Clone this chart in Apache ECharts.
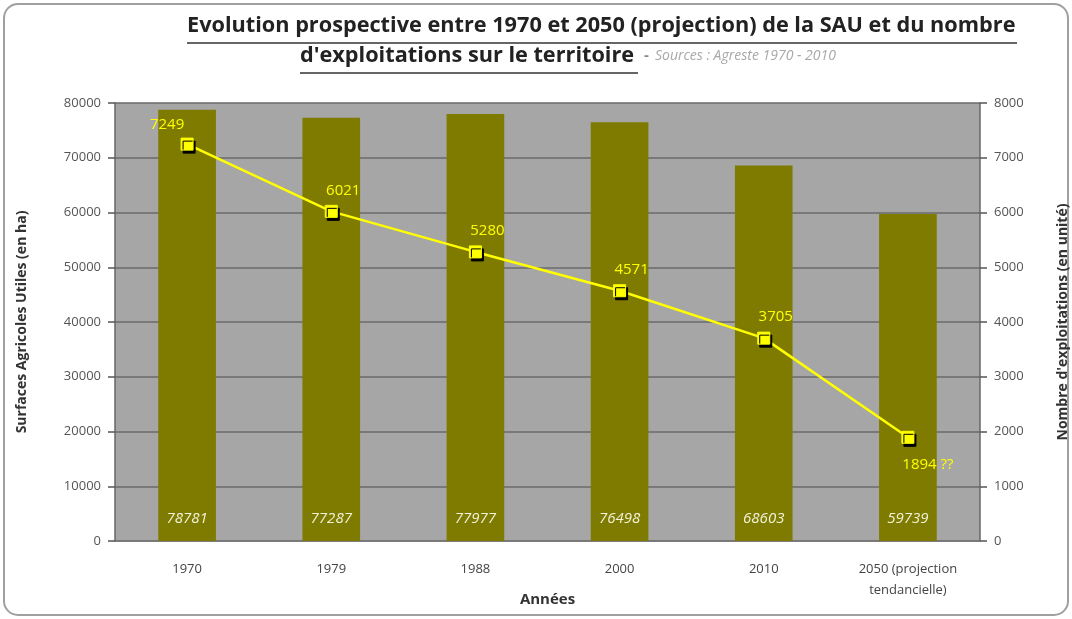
<!DOCTYPE html>
<html>
<head>
<meta charset="utf-8">
<script src="https://cdn.jsdelivr.net/npm/echarts@6/dist/echarts.min.js"></script>
<style>
  html, body { margin: 0; padding: 0; background: #fff; }
  #chart { width: 1072px; height: 619px; }
</style>
</head>
<body>
<div id="chart"></div>
<script>
var years = ['1970', '1979', '1988', '2000', '2010', '2050 (projection\ntendancielle)'];
var sau = [78781, 77287, 77977, 76498, 68603, 59739];
var exploitations = [7249, 6021, 5280, 4571, 3705, 1894];
var exploitLabels = ['7249', '6021', '5280', '4571', '3705', '1894 ??'];

var chart = echarts.init(document.getElementById('chart'));
var font = 'Open Sans';

// label offsets for the line points
var labelPos = [
  { position: 'top', offset: [-20, 0] },
  { position: 'top', offset: [12, -2] },
  { position: 'top', offset: [12, -2] },
  { position: 'top', offset: [12, -2] },
  { position: 'top', offset: [12, -2] },
  { position: 'bottom', offset: [20, 8] }
];

var lineData = exploitations.map(function (v, i) {
  return {
    value: v,
    label: {
      position: labelPos[i].position,
      offset: labelPos[i].offset,
      formatter: exploitLabels[i]
    }
  };
});

var plain = function (v) { return String(v); };

var option = {
  backgroundColor: '#fff',
  textStyle: { fontFamily: font },
  graphic: [
    {
      type: 'rect',
      shape: { x: 4, y: 4, width: 1064, height: 611, r: 14 },
      style: { fill: 'none', stroke: '#a0a0a0', lineWidth: 2 },
      z: -1
    },
    {
      type: 'text',
      left: 187,
      top: 15,
      style: {
        text: 'Evolution prospective entre 1970 et 2050 (projection) de la SAU et du nombre',
        font: 'bold 21.7px "' + font + '"',
        fill: '#222',
        textShadowColor: 'rgba(0,0,0,0.35)',
        textShadowOffsetX: 1,
        textShadowOffsetY: 1
      }
    },
    {
      type: 'text',
      left: 300,
      top: 45,
      style: {
        rich: {
          a: { font: 'bold 21.7px "' + font + '"', fill: '#222' },
          d: { font: 'bold 15px "' + font + '"', fill: '#888', padding: [0, 6, 0, 10] },
          b: { font: 'italic 14px "' + font + '"', fill: '#a8a8a8' }
        },
        text: '{a|d\'exploitations sur le territoire}{d|-}{b|Sources : Agreste 1970 - 2010}',
        textShadowColor: 'rgba(0,0,0,0.3)',
        textShadowOffsetX: 1,
        textShadowOffsetY: 1
      }
    },
    {
      type: 'line',
      shape: { x1: 187, y1: 43, x2: 1017, y2: 43 },
      style: { stroke: '#333', lineWidth: 1.5 }
    },
    {
      type: 'line',
      shape: { x1: 300, y1: 73, x2: 638, y2: 73 },
      style: { stroke: '#333', lineWidth: 1.5 }
    }
  ],
  grid: {
    left: 115,
    right: 92,
    top: 103,
    bottom: 78,
    outerBoundsMode: 'none',
    show: true,
    backgroundColor: '#a6a6a6',
    borderWidth: 0
  },
  xAxis: {
    type: 'category',
    data: years,
    name: 'Années',
    nameLocation: 'middle',
    nameGap: 51,
    nameMoveOverlap: false,
    nameTextStyle: { fontSize: 15, fontWeight: 'bold', color: '#333' },
    axisLine: { lineStyle: { color: '#777', width: 1.5 } },
    axisTick: { show: false },
    axisLabel: { color: '#444', fontSize: 13, margin: 18, lineHeight: 21 }
  },
  yAxis: [
    {
      type: 'value',
      min: 0,
      max: 80000,
      interval: 10000,
      name: 'Surfaces Agricoles Utiles (en ha)',
      nameLocation: 'middle',
      nameGap: 86,
      nameMoveOverlap: false,
      nameTextStyle: { fontSize: 14, fontWeight: 'bold', color: '#333' },
      axisLine: { show: true, lineStyle: { color: '#666', width: 1.5 } },
      axisTick: { show: true, length: 7, lineStyle: { color: '#555', width: 1.5 } },
      axisLabel: { color: '#555', fontSize: 13, margin: 14, formatter: plain },
      splitLine: { lineStyle: { color: '#6a6a6a', width: 1.5 } }
    },
    {
      type: 'value',
      min: 0,
      max: 8000,
      interval: 1000,
      position: 'right',
      name: 'Nombre d\'exploitations (en unité)',
      nameLocation: 'middle',
      nameGap: 76,
      nameRotate: 90,
      nameMoveOverlap: false,
      nameTextStyle: { fontSize: 14, fontWeight: 'bold', color: '#333' },
      axisLine: { show: true, lineStyle: { color: '#666', width: 1.5 } },
      axisTick: { show: true, length: 7, lineStyle: { color: '#555', width: 1.5 } },
      axisLabel: { color: '#555', fontSize: 13, margin: 14, formatter: plain },
      splitLine: { show: false }
    }
  ],
  series: [
    {
      name: 'SAU',
      type: 'bar',
      data: sau,
      barWidth: '40%',
      itemStyle: { color: '#7f7b00' },
      label: {
        show: true,
        position: 'insideBottom',
        distance: 15,
        color: '#f2f2d8',
        fontStyle: 'italic',
        fontSize: 15
      }
    },
    {
      name: 'Exploitations',
      type: 'line',
      yAxisIndex: 1,
      data: lineData,
      symbol: 'rect',
      symbolSize: 12,
      lineStyle: { color: '#ffff00', width: 2.5 },
      itemStyle: {
        color: '#ffff00',
        borderColor: '#ffff00',
        shadowColor: '#000',
        shadowBlur: 0,
        shadowOffsetX: 2,
        shadowOffsetY: 3
      },
      label: {
        show: true,
        color: '#ffff00',
        fontSize: 15
      },
      z: 5
    }
  ]
};

chart.setOption(option);
</script>
</body>
</html>
